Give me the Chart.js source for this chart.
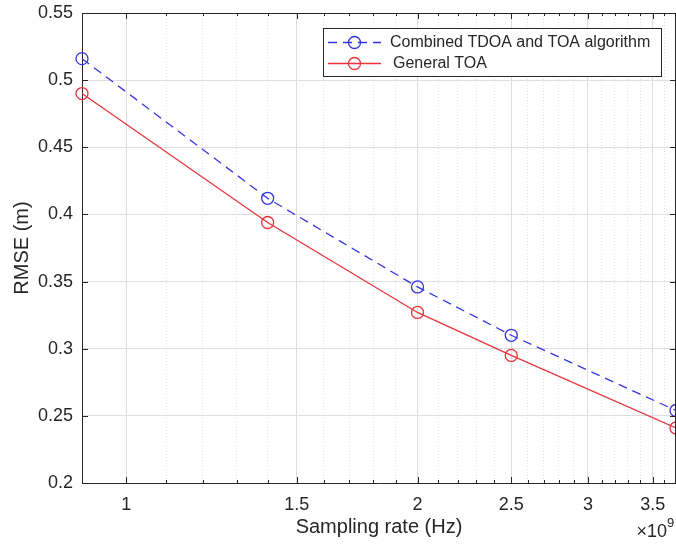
<!DOCTYPE html>
<html>
<head>
<meta charset="utf-8">
<script src="https://cdn.jsdelivr.net/npm/chart.js@4.4.1/dist/chart.umd.min.js"></script>
<style>
  html, body { margin: 0; padding: 0; background: #fff; overflow: hidden; }
  #wrap { width: 676px; height: 544px; position: relative; }
  #rmseChart { display: block; }
</style>
</head>
<body>
<div id="wrap"><canvas id="rmseChart"></canvas></div>
<script>
// sampling rate (Hz) vs RMSE (m)
const samplingRates = [0.9e9, 1.4e9, 2.0e9, 2.5e9, 3.7e9];
const rmseCombined = [0.516, 0.412, 0.346, 0.310, 0.254];
const rmseGeneral = [0.490, 0.394, 0.327, 0.295, 0.241];
const seriesNames = ['Combined TDOA and TOA algorithm', 'General TOA'];

const xMajorTicks = [1e9, 1.5e9, 2e9, 2.5e9, 3e9, 3.5e9];
const xMinorTicks = [1.1e9, 1.2e9, 1.3e9, 1.4e9, 1.6e9, 1.7e9, 1.8e9, 1.9e9,
  2.1e9, 2.2e9, 2.3e9, 2.4e9, 2.6e9, 2.7e9, 2.8e9, 2.9e9,
  3.1e9, 3.2e9, 3.3e9, 3.4e9, 3.6e9];
const yTicks = [0.2, 0.25, 0.3, 0.35, 0.4, 0.45, 0.5, 0.55];

const fontFamily = "'Liberation Sans', Arial, Helvetica, sans-serif";
const axisColor = '#262626';

const toPoints = ys => samplingRates.map((x, i) => ({ x: x, y: ys[i] }));

// keep tick labels from pushing the plot area around
const noLabelPadding = scale => {
  scale.paddingTop = 0;
  scale.paddingBottom = 0;
  scale.paddingLeft = 0;
  scale.paddingRight = 0;
};

// inward ticks, top/right box lines, exponent label and legend
const matlabAxes = {
  id: 'matlabAxes',
  afterDatasetsDraw(chart) {
    const { ctx, chartArea: a, scales: { x, y } } = chart;
    ctx.save();
    ctx.strokeStyle = axisColor;
    ctx.lineWidth = 1;
    ctx.beginPath();
    ctx.moveTo(a.left, a.top + 0.5);
    ctx.lineTo(a.right, a.top + 0.5);
    ctx.moveTo(a.right - 0.5, a.top);
    ctx.lineTo(a.right - 0.5, a.bottom);
    x.ticks.forEach(t => {
      const px = Math.round(x.getPixelForValue(t.value)) + 0.5;
      const len = t.major ? 6 : 3;
      ctx.moveTo(px, a.bottom);
      ctx.lineTo(px, a.bottom - len);
      ctx.moveTo(px, a.top);
      ctx.lineTo(px, a.top + len);
    });
    y.ticks.forEach(t => {
      const py = Math.round(y.getPixelForValue(t.value)) + 0.5;
      ctx.moveTo(a.left, py);
      ctx.lineTo(a.left + 6, py);
      ctx.moveTo(a.right, py);
      ctx.lineTo(a.right - 6, py);
    });
    ctx.stroke();

    // x10^9 exponent
    ctx.fillStyle = axisColor;
    ctx.textBaseline = 'alphabetic';
    ctx.textAlign = 'right';
    ctx.font = '18px ' + fontFamily;
    ctx.fillText('\u00d710', 667, 537);
    ctx.textAlign = 'left';
    ctx.font = '13px ' + fontFamily;
    ctx.fillText('9', 667, 527);
    ctx.restore();
  },
  afterDraw(chart) {
    const { ctx } = chart;
    const box = { left: 323, top: 28, right: 662, bottom: 77 };
    ctx.save();
    ctx.fillStyle = '#ffffff';
    ctx.fillRect(box.left, box.top, box.right - box.left, box.bottom - box.top);
    ctx.strokeStyle = axisColor;
    ctx.lineWidth = 1;
    ctx.strokeRect(box.left + 0.5, box.top + 0.5, box.right - box.left - 1, box.bottom - box.top - 1);
    const rows = [42, 63];
    chart.data.datasets.forEach((ds, i) => {
      const yy = rows[i] + 0.5;
      ctx.strokeStyle = ds.borderColor;
      ctx.lineWidth = ds.borderWidth;
      ctx.setLineDash(ds.borderDash || []);
      ctx.beginPath();
      ctx.moveTo(328, yy);
      ctx.lineTo(381, yy);
      ctx.stroke();
      ctx.setLineDash([]);
      ctx.beginPath();
      ctx.arc(354.5, yy, ds.pointRadius, 0, Math.PI * 2);
      ctx.stroke();
      ctx.fillStyle = axisColor;
      ctx.font = '16px ' + fontFamily;
      ctx.textBaseline = 'middle';
      ctx.textAlign = 'left';
      ctx.fillText(ds.label, i === 0 ? 390 : 393, yy);
    });
    ctx.restore();
  }
};

const ctx = document.getElementById('rmseChart').getContext('2d');
const rmseChart = new Chart(ctx, {
  type: 'line',
  data: {
    datasets: [{
      label: seriesNames[0],
      data: toPoints(rmseCombined),
      borderColor: '#3535e0',
      borderWidth: 1.3,
      borderDash: [9, 6],
      pointRadius: 6,
      pointBorderWidth: 1.3,
      pointBackgroundColor: 'rgba(0,0,0,0)',
      pointBorderColor: '#3535e0',
      tension: 0,
      clip: false
    }, {
      label: seriesNames[1],
      data: toPoints(rmseGeneral),
      borderColor: '#e8343c',
      borderWidth: 1.3,
      pointRadius: 6,
      pointBorderWidth: 1.3,
      pointBackgroundColor: 'rgba(0,0,0,0)',
      pointBorderColor: '#e8343c',
      tension: 0,
      clip: false
    }]
  },
  options: {
    responsive: true,
    maintainAspectRatio: false,
    animation: false,
    layout: {
      autoPadding: false,
      padding: { top: 13, right: 0, left: 0, bottom: 0 }
    },
    plugins: {
      legend: { display: false },
      tooltip: { enabled: false }
    },
    scales: {
      x: {
        type: 'logarithmic',
        min: 0.9e9,
        max: 3.7e9,
        afterBuildTicks: scale => {
          scale.ticks = xMajorTicks.map(v => ({ value: v, major: true }))
            .concat(xMinorTicks.map(v => ({ value: v, major: false })))
            .sort((p, q) => p.value - q.value);
        },
        afterFit: scale => {
          scale.height = 61;
          noLabelPadding(scale);
        },
        ticks: {
          autoSkip: false,
          maxRotation: 0,
          minRotation: 0,
          padding: 11,
          color: axisColor,
          font: { family: fontFamily, size: 18 },
          callback: function (value, index, ticks) {
            return ticks[index].major ? String(value / 1e9) : '';
          }
        },
        grid: {
          drawTicks: false,
          color: c => (c.tick && c.tick.major) ? '#dedede' : '#e3e3e3',
          lineWidth: 1
        },
        border: {
          color: axisColor,
          dash: c => (c.tick && !c.tick.major) ? [1, 2] : []
        },
        title: {
          display: true,
          text: 'Sampling rate (Hz)',
          color: axisColor,
          font: { family: fontFamily, size: 20 },
          padding: { top: 0, bottom: 5 }
        }
      },
      y: {
        min: 0.2,
        max: 0.55,
        afterBuildTicks: scale => {
          scale.ticks = yTicks.map(v => ({ value: v }));
        },
        afterFit: scale => {
          scale.width = 82;
          noLabelPadding(scale);
        },
        ticks: {
          padding: 9,
          color: axisColor,
          font: { family: fontFamily, size: 18 },
          callback: value => String(Number(value.toFixed(2)))
        },
        grid: {
          drawTicks: false,
          color: '#dedede',
          lineWidth: 1
        },
        border: { color: axisColor },
        title: {
          display: true,
          text: 'RMSE (m)',
          color: axisColor,
          font: { family: fontFamily, size: 20 },
          padding: { top: 10, bottom: 0 }
        }
      }
    }
  },
  plugins: [matlabAxes]
});
</script>
</body>
</html>
